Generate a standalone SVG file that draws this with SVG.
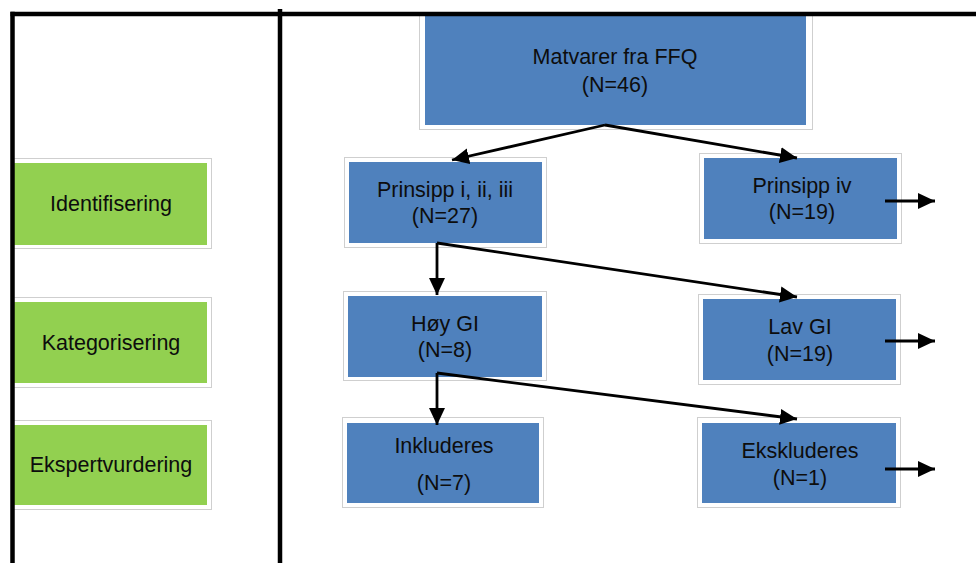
<svg xmlns="http://www.w3.org/2000/svg" width="976" height="563" viewBox="0 0 976 563">
<defs>
<style>
.frame{stroke:#000;stroke-width:4.5;fill:none}
.outer{fill:#fff;stroke:#cfcfcf;stroke-width:1}
.blue{fill:#4F81BD}
.green{fill:#92D050}
.t{font-family:"Liberation Sans",Arial,sans-serif;font-size:21.5px;fill:#0d0d0d;text-anchor:middle}
.c{stroke:#000;stroke-width:2.8;fill:none;marker-end:url(#ah)}
</style>
<marker id="ah" markerUnits="userSpaceOnUse" markerWidth="18" markerHeight="18" viewBox="0 0 18 18" refX="17" refY="9" orient="auto">
<path d="M0,1 L17,9 L0,17 z" fill="#000"/>
</marker>
</defs>
<rect width="976" height="563" fill="#fff"/>

<g id="node-matvarer">
<rect class="outer" x="419.5" y="12.5" width="393" height="117"/>
<rect class="blue" x="425" y="14" width="381" height="111"/>
<text class="t" x="615" y="64">Matvarer fra FFQ</text>
<text class="t" x="615" y="92">(N=46)</text>
</g>

<g id="node-identifisering">
<rect class="outer" x="12.5" y="158.5" width="199" height="90"/>
<rect class="green" x="12" y="163" width="195" height="82"/>
<text class="t" x="111" y="211">Identifisering</text>
</g>
<g id="node-kategorisering">
<rect class="outer" x="12.5" y="297.5" width="199" height="90"/>
<rect class="green" x="12" y="302" width="195" height="81"/>
<text class="t" x="111" y="350">Kategorisering</text>
</g>
<g id="node-ekspertvurdering">
<rect class="outer" x="12.5" y="420.5" width="199" height="89"/>
<rect class="green" x="12" y="425" width="195" height="80"/>
<text class="t" x="111" y="472">Ekspertvurdering</text>
</g>

<g id="node-prinsipp-i-iii">
<rect class="outer" x="344.5" y="157.5" width="202" height="90"/>
<rect class="blue" x="349" y="162" width="193" height="81"/>
<text class="t" x="445" y="197">Prinsipp i, ii, iii</text>
<text class="t" x="445" y="223">(N=27)</text>
</g>
<g id="node-prinsipp-iv">
<rect class="outer" x="699.5" y="153.5" width="202" height="90"/>
<rect class="blue" x="704" y="158" width="193" height="81"/>
<text class="t" x="802" y="193">Prinsipp iv</text>
<text class="t" x="802" y="219">(N=19)</text>
</g>
<g id="node-hoy-gi">
<rect class="outer" x="343.5" y="291.5" width="203" height="89"/>
<rect class="blue" x="348" y="296" width="194" height="81"/>
<text class="t" x="445" y="331">Høy GI</text>
<text class="t" x="445" y="357">(N=8)</text>
</g>
<g id="node-lav-gi">
<rect class="outer" x="698.5" y="294.5" width="202" height="90"/>
<rect class="blue" x="703" y="299" width="193" height="81"/>
<text class="t" x="800" y="334">Lav GI</text>
<text class="t" x="800" y="361">(N=19)</text>
</g>
<g id="node-inkluderes">
<rect class="outer" x="342.5" y="417.5" width="201" height="90"/>
<rect class="blue" x="347" y="423" width="192" height="80"/>
<text class="t" x="444" y="453">Inkluderes</text>
<text class="t" x="444" y="490">(N=7)</text>
</g>
<g id="node-ekskluderes">
<rect class="outer" x="697.5" y="417.5" width="203" height="90"/>
<rect class="blue" x="702" y="423" width="194" height="80"/>
<text class="t" x="800" y="458">Ekskluderes</text>
<text class="t" x="800" y="485">(N=1)</text>
</g>

<g id="connectors">
<line class="c" x1="605" y1="125" x2="452" y2="160"/>
<line class="c" x1="605" y1="125" x2="797" y2="158"/>
<line class="c" x1="437" y1="243" x2="437" y2="295"/>
<line class="c" x1="437" y1="243" x2="797" y2="297"/>
<line class="c" x1="437" y1="373" x2="437" y2="425"/>
<line class="c" x1="437" y1="373" x2="797" y2="419"/>
<line class="c" x1="885" y1="201" x2="935" y2="201"/>
<line class="c" x1="885" y1="341" x2="935" y2="341"/>
<line class="c" x1="885" y1="469" x2="935" y2="469"/>
</g>

<g id="frame">
<line class="frame" x1="10.5" y1="14" x2="976" y2="14"/>
<line class="frame" x1="12.5" y1="11.8" x2="12.5" y2="563"/>
<line class="frame" x1="280" y1="9" x2="280" y2="563"/>
</g>
</svg>
